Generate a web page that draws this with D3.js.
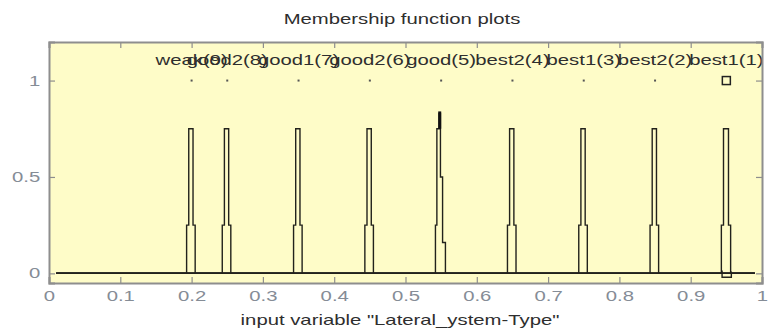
<!DOCTYPE html>
<html>
<head>
<meta charset="utf-8">
<script src="https://cdn.jsdelivr.net/npm/d3@7"></script>
<style>
  body { margin: 0; background: #fff; }
  text { font-family: "Liberation Sans", Arial, sans-serif; }
</style>
</head>
<body>
<svg width="769" height="331"></svg>
<script>
// membership functions, right to left as labelled in the plot
const mfNames = ["best1(1)", "best2(2)", "best1(3)", "best2(4)", "good(5)", "good2(6)", "good1(7)", "good2(8)", "weak(9)"];
const mfCenters = [0.95, 0.85, 0.75, 0.65, 0.55, 0.45, 0.35, 0.25, 0.2];

// the curves: [x, membership]
const mfCurves = [
  [[0.01,0],[0.943,0],[0.943,0.25],[0.946,0.25],[0.946,0.75],[0.953,0.75],[0.953,0.25],[0.956,0.25],[0.956,0],[0.99,0]],
  [[0.01,0],[0.843,0],[0.843,0.25],[0.846,0.25],[0.846,0.75],[0.852,0.75],[0.852,0.25],[0.855,0.25],[0.855,0],[0.99,0]],
  [[0.01,0],[0.743,0],[0.743,0.25],[0.746,0.25],[0.746,0.75],[0.752,0.75],[0.752,0.25],[0.755,0.25],[0.755,0],[0.99,0]],
  [[0.01,0],[0.643,0],[0.643,0.25],[0.646,0.25],[0.646,0.75],[0.652,0.75],[0.652,0.25],[0.655,0.25],[0.655,0],[0.99,0]],
  [[0.01,0],[0.542,0],[0.542,0.25],[0.544,0.25],[0.544,0.75],[0.547,0.75],[0.547,0.83],[0.549,0.83],[0.549,0.5],[0.552,0.5],[0.552,0.16],[0.556,0.16],[0.556,0],[0.99,0]],
  [[0.01,0],[0.443,0],[0.443,0.25],[0.446,0.25],[0.446,0.75],[0.452,0.75],[0.452,0.25],[0.455,0.25],[0.455,0],[0.99,0]],
  [[0.01,0],[0.343,0],[0.343,0.25],[0.346,0.25],[0.346,0.75],[0.352,0.75],[0.352,0.25],[0.355,0.25],[0.355,0],[0.99,0]],
  [[0.01,0],[0.243,0],[0.243,0.25],[0.246,0.25],[0.246,0.75],[0.252,0.75],[0.252,0.25],[0.255,0.25],[0.255,0],[0.99,0]],
  [[0.01,0],[0.193,0],[0.193,0.25],[0.196,0.25],[0.196,0.75],[0.202,0.75],[0.202,0.25],[0.205,0.25],[0.205,0],[0.99,0]]
];
// little bracket under best1(1)
const bracketPts = [[0.944,0.015],[0.944,-0.02],[0.957,-0.02],[0.957,0.01]];

const xTicks = [0, 0.1, 0.2, 0.3, 0.4, 0.5, 0.6, 0.7, 0.8, 0.9, 1];
const yTicks = [0, 0.5, 1];

const margin = {top: 42, right: 7, bottom: 48, left: 49};
const width = 769, height = 331;
const sx = 1.45; // text in the picture is stretched sideways
const fs = 14;

const svg = d3.select("svg");

const x = d3.scaleLinear().domain([0, 1]).range([margin.left, width - margin.right]);
const y = d3.scaleLinear().domain([-0.05, 1.2]).range([height - margin.bottom, margin.top]);

// plot background
svg.append("rect")
  .attr("x", x(0)).attr("y", y(1.2))
  .attr("width", x(1) - x(0)).attr("height", y(-0.05) - y(1.2))
  .attr("fill", "#fefcc8");

const line = d3.line().x(d => x(d[0])).y(d => y(d[1]));

svg.append("g").selectAll("path")
  .data(mfCurves).enter().append("path")
  .attr("d", d => line(d))
  .attr("fill", "none")
  .attr("stroke", "#22221c")
  .attr("stroke-width", 1.4);

svg.append("path")
  .attr("d", line(bracketPts))
  .attr("fill", "none")
  .attr("stroke", "#22221c")
  .attr("stroke-width", 1.4);

// thick top of good(5)
svg.append("line")
  .attr("x1", x(0.548)).attr("x2", x(0.548))
  .attr("y1", y(0.75)).attr("y2", y(0.84))
  .attr("stroke", "#111").attr("stroke-width", 3);

// markers at membership 1
svg.append("g").selectAll("rect")
  .data(mfCenters).enter().append("rect")
  .attr("x", (d, i) => i === 0 ? x(d) - 4 : x(d) - 1)
  .attr("y", (d, i) => i === 0 ? y(1) - 4 : y(1) - 1)
  .attr("width", (d, i) => i === 0 ? 8 : 2)
  .attr("height", (d, i) => i === 0 ? 8 : 2)
  .attr("fill", (d, i) => i === 0 ? "none" : "#555")
  .attr("stroke", (d, i) => i === 0 ? "#222" : "none")
  .attr("stroke-width", 1.5);

// labels of the functions
svg.append("g").selectAll("text")
  .data(mfNames).enter().append("text")
  .attr("transform", (d, i) => "translate(" + x(mfCenters[i]) + "," + y(1.1) + ") scale(" + sx + ",1)")
  .attr("text-anchor", "middle")
  .attr("dominant-baseline", "middle")
  .attr("font-size", fs)
  .attr("fill", "#2e2e2e")
  .text(d => d);

// axes
const axColor = "#8e8e8e";
const bottom = svg.append("g")
  .attr("transform", "translate(0," + y(-0.05) + ")")
  .call(d3.axisBottom(x).tickValues(xTicks).tickFormat(d3.format("")).tickSize(-6).tickPadding(8));
svg.append("g")
  .attr("transform", "translate(0," + y(1.2) + ")")
  .call(d3.axisTop(x).tickValues(xTicks).tickFormat("").tickSize(-6));
const left = svg.append("g")
  .attr("transform", "translate(" + x(0) + ",0)")
  .call(d3.axisLeft(y).tickValues(yTicks).tickFormat(d3.format("")).tickSize(-6).tickPadding(6));
svg.append("g")
  .attr("transform", "translate(" + x(1) + ",0)")
  .call(d3.axisRight(y).tickValues(yTicks).tickFormat("").tickSize(-6));

svg.selectAll(".domain").attr("stroke", axColor).attr("stroke-width", 2);
svg.selectAll(".tick line").attr("stroke", axColor).attr("stroke-width", 1.2);
bottom.selectAll("text").attr("transform", "scale(" + sx + ",1)");
left.selectAll("text").attr("transform", "scale(" + sx + ",1)");
svg.selectAll(".tick text")
  .attr("font-size", fs)
  .attr("font-family", "'Liberation Sans', Arial, sans-serif")
  .attr("fill", "#858c96");

// title and axis label
svg.append("text")
  .attr("transform", "translate(" + 402 + "," + 20 + ") scale(" + sx + ",1)")
  .attr("text-anchor", "middle")
  .attr("dominant-baseline", "middle")
  .attr("font-size", fs)
  .attr("fill", "#2e2e2e")
  .text("Membership function plots");

svg.append("text")
  .attr("transform", "translate(" + 400 + "," + 321 + ") scale(" + sx + ",1)")
  .attr("text-anchor", "middle")
  .attr("dominant-baseline", "middle")
  .attr("font-size", fs)
  .attr("fill", "#2e2e2e")
  .text("input variable \"Lateral_ystem-Type\"");
</script>
</body>
</html>
